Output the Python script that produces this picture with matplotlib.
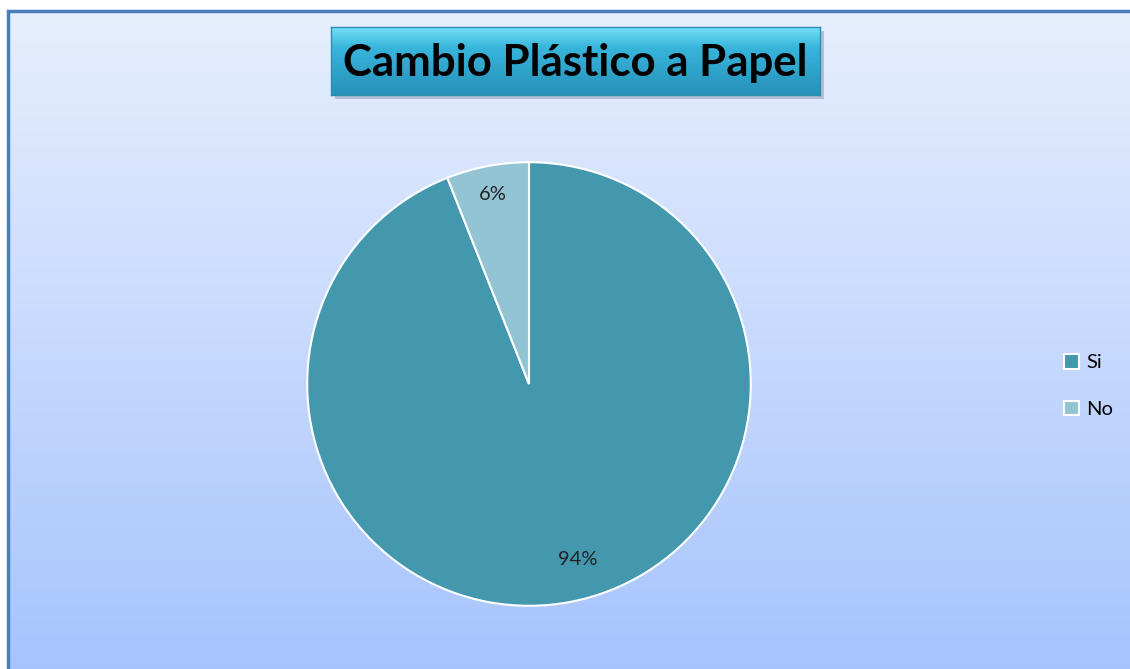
import numpy as np
import matplotlib
matplotlib.use("Agg")
import matplotlib.pyplot as plt
from matplotlib.patches import Rectangle

labels = ["Si", "No"]
values = [94, 6]
colors = ["#4398AE", "#93C4D4"]
title = "Cambio Plástico a Papel"

plt.rcParams['font.family'] = ['Lato', 'DejaVu Sans']

W, H = 1130, 669
fig = plt.figure(figsize=(W / 100, H / 100), dpi=100)
fig.patch.set_facecolor("white")

# background gradient inside the chart frame (light at top, deeper blue at bottom)
bg = fig.add_axes([7 / W, 0, 1 - 7 / W, 1 - 10 / H])
grad = np.linspace(0, 1, 256).reshape(-1, 1)
top = np.array([0.906, 0.937, 0.992])
bot = np.array([0.655, 0.768, 0.996])
img = top + (bot - top) * grad[:, :, None]
bg.imshow(img, aspect="auto", extent=[0, 1, 0, 1], origin="upper")
bg.set_xlim(0, 1)
bg.set_ylim(0, 1)
bg.axis("off")
fig.add_artist(Rectangle((8 / W, -0.1), 1.2, 1 - 11 / H + 0.1, transform=fig.transFigure,
                         fill=False, edgecolor="#4A7EBB", linewidth=2.5, zorder=5))

# title box with gradient and shadow
tx0, tx1, ty0, ty1 = 331, 820, 27, 95
fig.add_artist(Rectangle(((tx0 + 4) / W, 1 - (ty1 + 4) / H), (tx1 - tx0) / W, (ty1 - ty0) / H,
                         transform=fig.transFigure, facecolor="#7f8aa0", alpha=0.45,
                         edgecolor="none", zorder=2))
tax = fig.add_axes([tx0 / W, 1 - ty1 / H, (tx1 - tx0) / W, (ty1 - ty0) / H], zorder=3)
g = np.linspace(0, 1, 128).reshape(-1, 1)[:, :, None]
c_top = np.array([0.45, 0.88, 0.96])
c_mid = np.array([0.22, 0.71, 0.86])
c_bot = np.array([0.15, 0.57, 0.73])
col = np.where(g < 0.3, c_top + (c_mid - c_top) * (g / 0.3),
               c_mid + (c_bot - c_mid) * ((g - 0.3) / 0.7))
tax.imshow(col, aspect="auto", extent=[0, 1, 0, 1], origin="upper")
tax.set_xlim(0, 1)
tax.set_ylim(0, 1)
tax.set_xticks([])
tax.set_yticks([])
for s in tax.spines.values():
    s.set_edgecolor("#2a8fae")
    s.set_linewidth(1)
tax.text(0.5, 0.47, title, ha="center", va="center", fontsize=31.5, fontweight="bold",
         color="black", transform=tax.transAxes)

# pie
cx, cy, r = 529, 384, 224
ax = fig.add_axes([(cx - r) / W, (H - cy - r) / H, 2 * r / W, 2 * r / H], zorder=4)
wedges, texts, autotexts = ax.pie(values, colors=colors, startangle=90, counterclock=False,
                                  autopct="%d%%", pctdistance=0.87,
                                  wedgeprops=dict(edgecolor="white", linewidth=1.5),
                                  textprops=dict(fontsize=14.5, color="#222222"))
autotexts[0].set_position((0.22, -0.79))
ax.set_xlim(-1.01, 1.01)
ax.set_ylim(-1.01, 1.01)
ax.axis("off")

leg = fig.legend(wedges, labels, loc="center left", bbox_to_anchor=(1046 / W, 1 - 386 / H),
                 frameon=False, fontsize=14.5, handlelength=0.75, handleheight=0.75,
                 handletextpad=0.35, labelspacing=1.45)

fig.savefig("out.png", dpi=100)
